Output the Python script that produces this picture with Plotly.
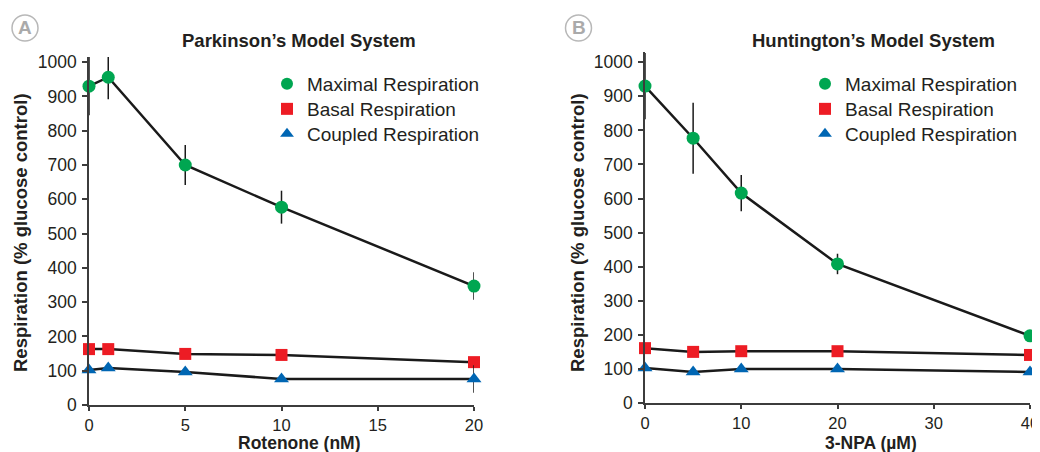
import plotly.graph_objects as go

# ---------------- data ----------------
rot_x = [0, 1, 5, 10, 20]
rot_max = [930, 956, 700, 577, 347]
rot_max_err = [85, 64, 58, 48, 40]
rot_basal = [163, 163, 149, 146, 125]
rot_basal_err = [0, 0, 0, 0, 0]
rot_coupled = [102, 108, 96, 76, 76]
rot_coupled_err = [0, 0, 0, 0, 40]

npa_x = [0, 5, 10, 20, 40]
npa_max = [930, 777, 616, 408, 197]
npa_max_err = [97, 104, 53, 30, 15]
npa_basal = [161, 150, 152, 152, 141]
npa_basal_err = [0, 12, 0, 8, 0]
npa_coupled = [103, 91, 100, 100, 91]
npa_coupled_err = [0, 0, 0, 0, 0]

series_names = ["Maximal Respiration", "Basal Respiration", "Coupled Respiration"]
y_ticks = [0, 100, 200, 300, 400, 500, 600, 700, 800, 900, 1000]
rot_ticks = [0, 5, 10, 15, 20]
npa_ticks = [0, 10, 20, 30, 40]

panel_titles = ["Parkinson’s Model System", "Huntington’s Model System"]
x_titles = ["Rotenone (nM)", "3-NPA (µM)"]
y_title = "Respiration (% glucose control)"
panel_labels = ["A", "B"]

GREEN = "#00a651"
RED = "#ed1c24"
BLUE = "#0066b3"
AX = "#3c3c3c"
TXT = "#231f20"
FONT = "Liberation Sans, Arial, sans-serif"

# page body has an 8px margin: figure is drawn at offset (8, 8)
OFF = 8
W, H = 1032, 444


def px(x):
    return (x - OFF) / W


def py(y):
    return 1 - (y - OFF) / H


styles = [
    dict(symbol="circle", color=GREEN, size=13),
    dict(symbol="square", color=RED, size=12),
    dict(symbol="triangle-up", color=BLUE, size=13),
]

fig = go.Figure()


def add_panel(xs, ys_list, errs_list, xa, ya, legend_ids):
    for ys, errs, st in zip(ys_list, errs_list, styles):
        fig.add_trace(go.Scatter(
            x=xs, y=ys, mode="lines+markers", xaxis=xa, yaxis=ya,
            line=dict(color="#1a1a1a", width=2.5),
            marker=dict(symbol=st["symbol"], color=st["color"], size=st["size"]),
            error_y=dict(type="data", array=errs, visible=True, color="#1a1a1a",
                         thickness=1.5, width=0),
            showlegend=False, cliponaxis=False,
        ))
    for st, name, lid in zip(styles, series_names, legend_ids):
        fig.add_trace(go.Scatter(
            x=[None], y=[None], mode="markers", xaxis=xa, yaxis=ya,
            marker=dict(symbol=st["symbol"], color=st["color"], size=st["size"]),
            name=name, showlegend=True, legend=lid,
        ))


add_panel(rot_x, [rot_max, rot_basal, rot_coupled],
          [rot_max_err, rot_basal_err, rot_coupled_err], "x", "y",
          ["legend", "legend2", "legend3"])
add_panel(npa_x, [npa_max, npa_basal, npa_coupled],
          [npa_max_err, npa_basal_err, npa_coupled_err], "x2", "y2",
          ["legend4", "legend5", "legend6"])

axis_common = dict(showgrid=False, zeroline=False, showline=True, linecolor=AX,
                   linewidth=1.5, ticks="outside", tickcolor=AX,
                   tickwidth=1.5, automargin=False)
yfont = dict(family=FONT, size=17.5, color=TXT)
xfont = dict(family=FONT, size=16.5, color=TXT)
title_font = dict(family=FONT, size=18.5, color=TXT, weight="bold")
xtitle_font = dict(family=FONT, size=17.5, color=TXT, weight="bold")


def leg(xpage, ypage):
    return dict(x=px(xpage), y=py(ypage), xanchor="left", yanchor="middle",
                font=dict(family=FONT, size=19, color=TXT), bgcolor="rgba(0,0,0,0)",
                itemsizing="constant", borderwidth=0)


legend_rows = [84, 109, 134]
legends = {}
for k, yr in enumerate(legend_rows):
    legends["legend" if k == 0 else f"legend{k + 1}"] = leg(267, yr)
    legends[f"legend{k + 4}"] = leg(805, yr)

fig.update_layout(
    width=W, height=H,
    margin=dict(l=0, r=0, t=0, b=0, autoexpand=False),
    paper_bgcolor="white", plot_bgcolor="white",
    xaxis=dict(domain=[px(89), px(474)], range=[0, 20], tickvals=rot_ticks,
               anchor="y", tickfont=xfont, ticklen=4, **axis_common),
    yaxis=dict(domain=[py(405), py(57)], range=[0, 1015], tickvals=y_ticks,
               anchor="x", ticklabelstandoff=2, tickfont=yfont, ticklen=5, **axis_common),
    xaxis2=dict(domain=[px(645), px(1030)], range=[0, 40], tickvals=npa_ticks,
                anchor="y2", tickfont=xfont, ticklen=4, **axis_common),
    yaxis2=dict(domain=[py(403), py(52)], range=[0, 1030], tickvals=y_ticks,
                anchor="x2", ticklabelstandoff=2, tickfont=yfont, ticklen=5, **axis_common),
    **legends,
)

# panel titles, axis titles, panel labels
for i, (tx, xt_x, yt_x, lab_x) in enumerate([(299, 299, 20, 25), (873, 871, 577, 578.5)]):
    fig.add_annotation(x=px(tx), y=py(40), xref="paper", yref="paper",
                       text=panel_titles[i], showarrow=False,
                       font=title_font, xanchor="center", yanchor="middle")
    fig.add_annotation(x=px(xt_x), y=py(442.5), xref="paper", yref="paper",
                       text=x_titles[i], showarrow=False, height=18, borderpad=0,
                       font=xtitle_font, xanchor="center", yanchor="middle")
    fig.add_annotation(x=px(yt_x), y=py(233), xref="paper", yref="paper",
                       text=y_title, showarrow=False, textangle=-90,
                       font=title_font, xanchor="center", yanchor="middle")
    fig.add_shape(type="circle", xref="paper", yref="paper",
                  x0=px(lab_x - 13), x1=px(lab_x + 13), y0=py(28 + 13), y1=py(28 - 13),
                  line=dict(color="#b8b8b8", width=1.5), fillcolor="white")
    fig.add_annotation(x=px(lab_x), y=py(28), xref="paper", yref="paper",
                       text=panel_labels[i], showarrow=False,
                       font=dict(family=FONT, size=19, color="#aaaaaa", weight="bold"),
                       xanchor="center", yanchor="middle")

fig.write_html("out.html")
